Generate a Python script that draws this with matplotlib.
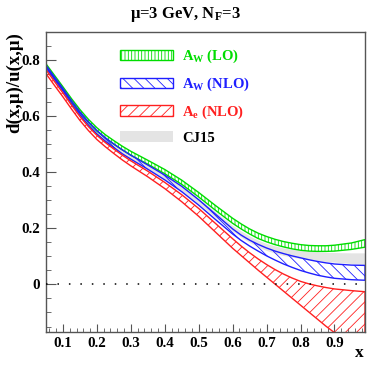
import numpy as np
import matplotlib
matplotlib.use("Agg")
import matplotlib.pyplot as plt
from matplotlib.patches import Patch
from matplotlib.ticker import MultipleLocator, FuncFormatter

# d/u ratio bands
x = [0.05, 0.075, 0.10, 0.125, 0.15, 0.175, 0.20, 0.225, 0.25, 0.275, 0.30,
     0.35, 0.40, 0.45, 0.50, 0.55, 0.60, 0.625, 0.65, 0.675, 0.70, 0.725,
     0.75, 0.775, 0.80, 0.825, 0.85, 0.875, 0.90, 0.95, 0.99]

aw_lo_hi = [0.787, 0.746, 0.705, 0.663, 0.624, 0.589, 0.559, 0.534, 0.513, 0.493, 0.475,
            0.443, 0.410, 0.372, 0.328, 0.281, 0.236, 0.216, 0.198, 0.183, 0.171, 0.161,
            0.153, 0.147, 0.142, 0.139, 0.138, 0.138, 0.140, 0.148, 0.160]
aw_lo_lo = [0.777, 0.736, 0.695, 0.652, 0.613, 0.578, 0.547, 0.522, 0.500, 0.480, 0.461,
            0.429, 0.395, 0.357, 0.312, 0.264, 0.218, 0.198, 0.180, 0.164, 0.152, 0.142,
            0.134, 0.127, 0.122, 0.119, 0.118, 0.118, 0.119, 0.125, 0.133]

aw_nlo_hi = [0.782, 0.740, 0.699, 0.656, 0.616, 0.580, 0.549, 0.523, 0.501, 0.480, 0.461,
             0.426, 0.390, 0.350, 0.302, 0.250, 0.198, 0.176, 0.158, 0.143, 0.130, 0.119,
             0.110, 0.102, 0.095, 0.088, 0.082, 0.077, 0.073, 0.069, 0.068]
aw_nlo_lo = [0.773, 0.731, 0.690, 0.646, 0.605, 0.569, 0.537, 0.511, 0.488, 0.466, 0.447,
             0.411, 0.373, 0.331, 0.283, 0.231, 0.180, 0.157, 0.137, 0.119, 0.102, 0.087,
             0.073, 0.061, 0.050, 0.041, 0.033, 0.027, 0.022, 0.017, 0.015]

ae_nlo_hi = [0.766, 0.724, 0.683, 0.640, 0.599, 0.563, 0.532, 0.506, 0.483, 0.461, 0.441,
             0.404, 0.364, 0.320, 0.271, 0.217, 0.163, 0.137, 0.113, 0.091, 0.071, 0.053,
             0.037, 0.023, 0.011, 0.002, -0.005, -0.011, -0.016, -0.022, -0.026]
ae_nlo_lo = [0.752, 0.710, 0.669, 0.626, 0.585, 0.549, 0.517, 0.491, 0.467, 0.444, 0.423,
             0.384, 0.342, 0.295, 0.243, 0.186, 0.129, 0.103, 0.077, 0.051, 0.026, 0.001,
             -0.024, -0.049, -0.074, -0.099, -0.124, -0.149, -0.172, -0.205, -0.228]

cj15_hi = [0.782, 0.740, 0.699, 0.656, 0.616, 0.580, 0.549, 0.523, 0.501, 0.480, 0.461,
           0.427, 0.391, 0.352, 0.306, 0.258, 0.210, 0.190, 0.172, 0.157, 0.145, 0.136,
           0.129, 0.124, 0.120, 0.117, 0.115, 0.113, 0.112, 0.111, 0.111]
cj15_lo = [0.770, 0.729, 0.688, 0.645, 0.604, 0.568, 0.537, 0.511, 0.489, 0.467, 0.447,
           0.412, 0.375, 0.334, 0.287, 0.238, 0.190, 0.168, 0.149, 0.133, 0.120, 0.110,
           0.102, 0.096, 0.091, 0.087, 0.083, 0.080, 0.078, 0.073, 0.069]

GREEN = "#00dd00"
BLUE = "#1f1fff"
RED = "#ff2020"
GRAY = "#e4e4e4"

plt.rcParams["font.family"] = ["Liberation Serif", "DejaVu Serif"]
plt.rcParams["font.weight"] = "bold"
plt.rcParams["mathtext.fontset"] = "custom"
plt.rcParams["mathtext.rm"] = "Liberation Serif:bold"
plt.rcParams["mathtext.it"] = "Liberation Serif:bold"
plt.rcParams["mathtext.bf"] = "Liberation Serif:bold"
plt.rcParams["hatch.linewidth"] = 0.6


def main():
    fig = plt.figure(figsize=(3.74, 3.74), dpi=100)
    ax = fig.add_axes([0.123, 0.112, 0.853, 0.802])

    ax.fill_between(x, cj15_lo, cj15_hi, facecolor=GRAY, edgecolor="none", zorder=1)

    bands = [
        (aw_lo_lo, aw_lo_hi, GREEN, "|||||"),
        (aw_nlo_lo, aw_nlo_hi, BLUE, "\\\\\\"),
        (ae_nlo_lo, ae_nlo_hi, RED, "///"),
    ]
    for lo, hi, color, hatch in bands:
        ax.fill_between(x, lo, hi, facecolor="none", edgecolor=color,
                        hatch=hatch, linewidth=1.0, zorder=2)

    ax.axhline(0, color="black", linewidth=1.1, linestyle=(0, (1, 6.5)), zorder=3)

    ax.set_xlim(0.05, 0.99)
    ax.set_ylim(-0.17, 0.9)

    ax.xaxis.set_major_locator(MultipleLocator(0.1))
    ax.xaxis.set_minor_locator(MultipleLocator(0.02))
    ax.yaxis.set_major_locator(MultipleLocator(0.2))
    ax.yaxis.set_minor_locator(MultipleLocator(0.05))
    ax.yaxis.set_major_formatter(FuncFormatter(lambda v, p: f"{v:g}" if abs(v) > 1e-9 else "0"))
    ax.xaxis.set_major_formatter(FuncFormatter(lambda v, p: f"{v:.1f}"))

    ax.tick_params(which="both", direction="in", top=False, right=False,
                   labelsize=10.8, color="#555555")
    ax.tick_params(axis="x", which="major", length=6, pad=3.5)
    ax.tick_params(axis="x", which="minor", length=3)
    ax.tick_params(axis="y", which="major", length=7, pad=4)
    ax.tick_params(axis="y", which="minor", length=3.5)
    for s in ax.spines.values():
        s.set_color("#555555")
        s.set_linewidth(1.0)

    ax.set_ylabel(r"d(x,μ)/u(x,μ)", fontsize=13.5, fontweight="bold", loc="top")
    ax.yaxis.set_label_coords(-0.072, 1.0)
    ax.set_xlabel("x", fontsize=12.5, fontweight="bold", loc="right")
    ax.xaxis.set_label_coords(0.995, -0.042)

    fig.text(0.495, 1 - 18 / 374, r"μ=3 GeV, N$_{\mathrm{F}}$=3", fontsize=12,
             fontweight="bold", ha="center", va="baseline")

    handles = [
        Patch(facecolor="none", edgecolor=GREEN, hatch="|||||", linewidth=1.0),
        Patch(facecolor="none", edgecolor=BLUE, hatch="\\\\\\", linewidth=1.0),
        Patch(facecolor="none", edgecolor=RED, hatch="///", linewidth=1.0),
        Patch(facecolor=GRAY, edgecolor="none"),
    ]
    labels = [r"A$_{\mathrm{W}}$ (LO)", r"A$_{\mathrm{W}}$ (NLO)",
              r"A$_{\mathrm{e}}$ (NLO)", "CJ15"]
    leg = ax.legend(handles, labels, loc="upper left", bbox_to_anchor=(0.232, 0.947),
                    frameon=False, fontsize=10.5, handlelength=3.6, handleheight=0.75,
                    handletextpad=0.68, labelspacing=0.71, borderpad=0, borderaxespad=0)
    for txt, c in zip(leg.get_texts(), [GREEN, BLUE, RED, "black"]):
        txt.set_color(c)

    fig.savefig("out.png", dpi=100)
    plt.close(fig)


if __name__ == "__main__":
    main()
